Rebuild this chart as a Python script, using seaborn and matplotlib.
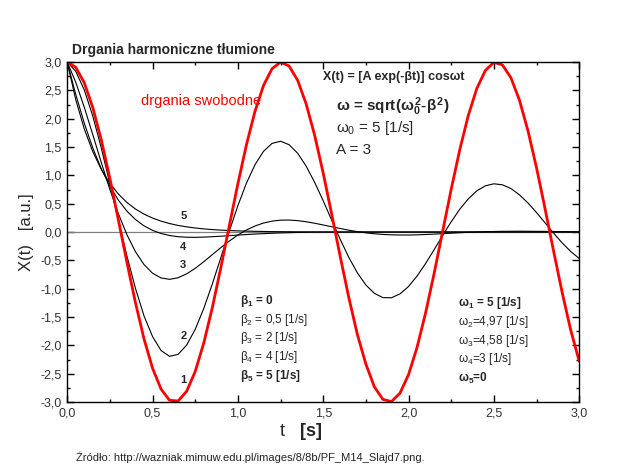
import numpy as np
import pandas as pd
import matplotlib
matplotlib.use("Agg")
import matplotlib.pyplot as plt
import seaborn as sns
from matplotlib.ticker import MultipleLocator, FuncFormatter

# ---- data ----
t = [round(0.05 * k, 2) for k in range(61)]

x1 = [3.000, 2.907, 2.633, 2.195, 1.621, 0.946, 0.212, -0.535, -1.248, -1.885,
      -2.403, -2.773, -2.970, -2.982, -2.810, -2.462, -1.961, -1.338, -0.632, 0.113,
      0.851, 1.537, 2.126, 2.584, 2.881, 2.998, 2.930, 2.679, 2.262, 1.706,
      1.040, 0.311, -0.437, -1.157, -1.806, -2.330, -2.733, -2.954, -2.992, -2.843,
      -2.517, -2.035, -1.427, -0.730, 0.013, 0.755, 1.450, 2.055, 2.532, 2.851,
      2.993, 2.950, 2.722, 2.326, 1.785, 1.133, 0.410, -0.338, -1.065, -1.727, -2.279]

x2 = [3.000, 2.836, 2.508, 2.045, 1.480, 0.852, 0.206, -0.423, -0.994, -1.480,
      -1.845, -2.092, -2.194, -2.159, -1.995, -1.718, -1.351, -0.920, -0.454, 0.017,
      0.464, 0.861, 1.186, 1.423, 1.563, 1.602, 1.541, 1.391, 1.163, 0.876,
      0.551, 0.207, -0.132, -0.447, -0.719, -0.935, -1.083, -1.158, -1.160, -1.092,
      -0.961, -0.777, -0.556, -0.312, -0.062, 0.181, 0.401, 0.585, 0.726, 0.815,
      0.851, 0.833, 0.767, 0.656, 0.512, 0.343, 0.162, -0.020, -0.192, -0.343, -0.467]

x3 = [3.000, 2.643, 2.203, 1.718, 1.224, 0.751, 0.322, -0.048, -0.348, -0.574,
      -0.727, -0.811, -0.835, -0.807, -0.738, -0.641, -0.525, -0.400, -0.276, -0.159,
      -0.054, 0.035, 0.106, 0.158, 0.192, 0.209, 0.211, 0.201, 0.181, 0.155,
      0.124, 0.093, 0.062, 0.032, 0.007, -0.015, -0.031, -0.043, -0.050, -0.053,
      -0.053, -0.050, -0.044, -0.037, -0.029, -0.021, -0.013, -0.006, 0.000, 0.005,
      0.009, 0.012, 0.013, 0.014, 0.013, 0.012, 0.011, 0.009, 0.007, 0.005, 0.003]

x4 = [3.000, 2.429, 1.921, 1.482, 1.112, 0.808, 0.562, 0.368, 0.220, 0.109,
      0.029, -0.026, -0.062, -0.083, -0.092, -0.094, -0.090, -0.083, -0.074, -0.064,
      -0.054, -0.045, -0.036, -0.029, -0.022, -0.016, -0.012, -0.008, -0.005, -0.003,
      -0.002, 0.000, 0.000, 0.000, 0.000, 0.000, 0.000, 0.000, 0.000, 0.000,
      0.000, 0.000, 0.000, 0.000, 0.000, 0.000, 0.000, 0.000, 0.000, 0.000,
      0.000, 0.000, 0.000, 0.000, 0.000, 0.000, 0.000, 0.000, 0.000, 0.000, 0.000]

x5 = [3.000, 2.336, 1.820, 1.417, 1.104, 0.860, 0.669, 0.521, 0.406, 0.316,
      0.246, 0.192, 0.149, 0.116, 0.091, 0.071, 0.055, 0.043, 0.033, 0.026,
      0.020, 0.016, 0.012, 0.010, 0.007, 0.006, 0.005, 0.004, 0.003, 0.002,
      0.002, 0.000, 0.000, 0.000, 0.000, 0.000, 0.000, 0.000, 0.000, 0.000,
      0.000, 0.000, 0.000, 0.000, 0.000, 0.000, 0.000, 0.000, 0.000, 0.000,
      0.000, 0.000, 0.000, 0.000, 0.000, 0.000, 0.000, 0.000, 0.000, 0.000, 0.000]

curve_names = ["1", "2", "3", "4", "5"]
x_ticks = [0.0, 0.5, 1.0, 1.5, 2.0, 2.5, 3.0]
y_ticks = [-3.0, -2.5, -2.0, -1.5, -1.0, -0.5, 0.0, 0.5, 1.0, 1.5, 2.0, 2.5, 3.0]

damped = pd.DataFrame({
    "t": t * 4,
    "X": x2 + x3 + x4 + x5,
    "curve": ["2"] * 61 + ["3"] * 61 + ["4"] * 61 + ["5"] * 61,
})
free = pd.DataFrame({"t": t, "X": x1, "curve": ["1"] * 61})

# ---- style ----
sns.set_theme(style="ticks")
plt.rcParams["font.family"] = ["Liberation Sans", "DejaVu Sans"]
plt.rcParams["mathtext.fontset"] = "custom"
plt.rcParams["mathtext.rm"] = "Liberation Sans"
plt.rcParams["mathtext.it"] = "Liberation Sans"
plt.rcParams["mathtext.bf"] = "Liberation Sans:bold"

fig = plt.figure(figsize=(6.4, 4.68), dpi=100)
ax = fig.add_axes([0.105, 0.141, 0.8, 0.7265])

ax.axhline(0, color="#808080", lw=0.9, zorder=1)

sns.lineplot(data=damped, x="t", y="X", hue="curve", units="curve", estimator=None,
             palette={"2": "black", "3": "black", "4": "black", "5": "black"},
             lw=0.8, legend=False, ax=ax, sort=False)
sns.lineplot(data=free, x="t", y="X", color="#ff0000", lw=2.0, legend=False,
             ax=ax, sort=False, estimator=None)

ax.set_xlim(0, 3)
ax.set_ylim(-3, 3)
ax.set_xticks(x_ticks)
ax.set_yticks(y_ticks)
ax.xaxis.set_minor_locator(MultipleLocator(0.25))
ax.yaxis.set_minor_locator(MultipleLocator(0.25))
fmt = FuncFormatter(lambda v, p: f"{v:.1f}".replace(".", ","))
ax.xaxis.set_major_formatter(fmt)
ax.yaxis.set_major_formatter(fmt)
ax.tick_params(which="both", direction="in", top=True, right=True, color="black",
               labelsize=9, labelcolor="#333333", width=1)
ax.tick_params(which="major", length=5, pad=4)
ax.tick_params(which="minor", length=2.5)
for s in ax.spines.values():
    s.set_color("black")
    s.set_linewidth(1.0)

ax.set_xlabel("")
ax.set_ylabel("")
fig.text(0.468, 0.077, "t   ", fontsize=13, ha="right", va="center")
fig.text(0.468, 0.077, "[s]", fontsize=13, ha="left", va="center", fontweight="bold")
fig.text(0.042, 0.504, "X(t)   [a.u.]", fontsize=12, rotation=90, ha="center", va="center")

fig.text(0.112, 0.893, "Drgania harmoniczne tłumione", fontsize=10, fontweight="bold",
         ha="left", va="center")
fig.text(0.118, 0.022, "Źródło: http://wazniak.mimuw.edu.pl/images/8/8b/PF_M14_Slajd7.png.",
         fontsize=8, color="#222222", ha="left", va="center")

ax.text(0.43, 2.31, "drgania swobodne", color="#ff0000", fontsize=10.5, va="center")
ax.text(1.50, 2.74, "X(t) = [A exp(-βt)] cosωt", fontsize=9, fontweight="bold", va="center")
ax.text(1.576, 2.22, r"$\mathbf{\omega}$ = sqrt($\mathbf{\omega_0^{\,2}}$-$\mathbf{\beta^{\,2}}$)",
        fontsize=11, fontweight="bold", va="center")
ax.text(1.576, 1.84, r"$\omega_0$ = 5 [1/s]", fontsize=11, va="center")
ax.text(1.576, 1.45, "A = 3", fontsize=11, va="center")

beta_lines = [(r"$\mathbf{\beta_1}$ = 0", "bold"),
              (r"$\beta_2$ = 0,5 [1/s]", "normal"),
              (r"$\beta_3$ = 2 [1/s]", "normal"),
              (r"$\beta_4$ = 4 [1/s]", "normal"),
              (r"$\mathbf{\beta_5}$ = 5 [1/s]", "bold")]
for (txt, w), yv in zip(beta_lines, [-1.22, -1.55, -1.87, -2.20, -2.54]):
    ax.text(1.013, yv, txt, fontsize=8.5, fontweight=w, va="center")

omega_lines = [(r"$\mathbf{\omega_1}$ = 5 [1/s]", "bold"),
               (r"$\omega_2$=4,97 [1/s]", "normal"),
               (r"$\omega_3$=4,58 [1/s]", "normal"),
               (r"$\omega_4$=3 [1/s]", "normal"),
               (r"$\mathbf{\omega_5}$=0", "bold")]
for (txt, w), yv in zip(omega_lines, [-1.25, -1.59, -1.92, -2.24, -2.58]):
    ax.text(2.29, yv, txt, fontsize=8.5, fontweight=w, va="center")

label_pos = {"5": 0.28, "4": -0.26, "3": -0.58, "2": -1.83, "1": -2.61}
for name in curve_names:
    ax.text(0.68, label_pos[name], name, fontsize=8, fontweight="bold",
            ha="center", va="center")

fig.savefig("out.png", dpi=100)
